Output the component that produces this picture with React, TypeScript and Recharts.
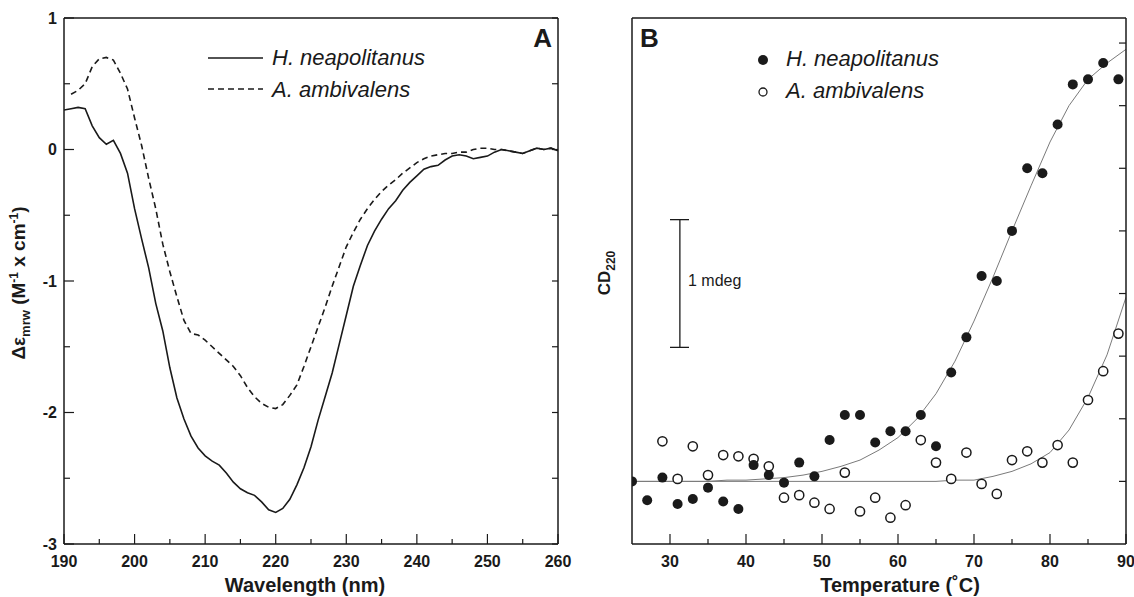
import { LineChart, Line, XAxis, YAxis, ComposedChart, Scatter, ReferenceLine, Customized } from "recharts";

const FONT = "'Liberation Sans', Arial, Helvetica, sans-serif";
const INK = "#1a1a1a";

// Panel A: far-UV CD spectra (mean residue ellipticity)
const wavelengths = [
  190, 191, 192, 193, 194, 195, 196, 197, 198, 199,
  200, 201, 202, 203, 204, 205, 206, 207, 208, 209,
  210, 211, 212, 213, 214, 215, 216, 217, 218, 219,
  220, 221, 222, 223, 224, 225, 226, 227, 228, 229,
  230, 231, 232, 233, 234, 235, 236, 237, 238, 239,
  240, 241, 242, 243, 244, 245, 246, 247, 248, 249,
  250, 251, 252, 253, 254, 255, 256, 257, 258, 259, 260,
];
const hNeapolitanusSpectrum = [
  0.30, 0.31, 0.32, 0.31, 0.18, 0.09, 0.04, 0.07, -0.03, -0.18,
  -0.45, -0.68, -0.90, -1.17, -1.38, -1.66, -1.89, -2.05, -2.18, -2.27,
  -2.33, -2.37, -2.40, -2.46, -2.53, -2.58, -2.61, -2.63, -2.68, -2.74,
  -2.76, -2.73, -2.66, -2.55, -2.42, -2.26, -2.06, -1.88, -1.70, -1.48,
  -1.26, -1.04, -0.88, -0.73, -0.62, -0.53, -0.45, -0.39, -0.31, -0.25,
  -0.20, -0.15, -0.13, -0.12, -0.08, -0.05, -0.04, -0.05, -0.07, -0.06,
  -0.05, -0.02, 0.00, -0.01, -0.02, -0.03, -0.01, 0.01, 0.00, 0.01, -0.01,
];
const aAmbivalensSpectrum = [
  null, 0.42, 0.45, 0.50, 0.63, 0.69, 0.70, 0.68, 0.58, 0.46,
  0.24, 0.03, -0.22, -0.45, -0.72, -0.93, -1.12, -1.30, -1.40, -1.41,
  -1.45, -1.50, -1.55, -1.60, -1.65, -1.72, -1.81, -1.88, -1.93, -1.96,
  -1.97, -1.94, -1.87, -1.79, -1.65, -1.50, -1.35, -1.20, -1.04, -0.89,
  -0.74, -0.63, -0.53, -0.45, -0.38, -0.32, -0.27, -0.23, -0.18, -0.14,
  -0.10, -0.07, -0.05, -0.04, -0.03, -0.03, -0.02, -0.02, 0.00, 0.01,
  0.01, 0.00, 0.00, -0.01, -0.02, -0.03, -0.01, 0.01, 0.00, 0.01, -0.01,
];
const wavelengthTicks = [190, 195, 200, 205, 210, 215, 220, 225, 230, 235, 240, 245, 250, 255, 260];
const epsilonTicks = [-3, -2.5, -2, -1.5, -1, -0.5, 0, 0.5, 1];

// Panel B: thermal unfolding followed at 220 nm (mdeg)
const meltTempsH = [25, 27, 29, 31, 33, 35, 37, 39, 41, 43, 45, 47, 49, 51, 53, 55, 57, 59, 61, 63, 65, 67, 69, 71, 73, 75, 77, 79, 81, 83, 85, 87, 89];
const meltCdH = [0.50, 0.35, 0.53, 0.32, 0.36, 0.45, 0.34, 0.28, 0.63, 0.55, 0.49, 0.65, 0.54, 0.83, 1.03, 1.03, 0.81, 0.90, 0.90, 1.03, 0.78, 1.37, 1.65, 2.14, 2.10, 2.50, 3.00, 2.96, 3.35, 3.67, 3.71, 3.84, 3.71];
const meltTempsA = [29, 31, 33, 35, 37, 39, 41, 43, 45, 47, 49, 51, 53, 55, 57, 59, 61, 63, 65, 67, 69, 71, 73, 75, 77, 79, 81, 83, 85, 87, 89];
const meltCdA = [0.82, 0.52, 0.78, 0.55, 0.71, 0.70, 0.68, 0.62, 0.37, 0.39, 0.33, 0.28, 0.57, 0.26, 0.37, 0.21, 0.31, 0.83, 0.65, 0.52, 0.73, 0.48, 0.40, 0.67, 0.74, 0.65, 0.79, 0.65, 1.15, 1.38, 1.68];
const fitTemps = [25, 27.5, 30, 32.5, 35, 37.5, 40, 42.5, 45, 47.5, 50, 52.5, 55, 57.5, 60, 62.5, 65, 67.5, 70, 72.5, 75, 77.5, 80, 82.5, 85, 87.5, 90];
const fitCdH = [0.50, 0.50, 0.50, 0.50, 0.50, 0.51, 0.51, 0.52, 0.53, 0.55, 0.58, 0.62, 0.67, 0.75, 0.85, 1.00, 1.20, 1.46, 1.78, 2.13, 2.50, 2.86, 3.21, 3.50, 3.71, 3.84, 3.95];
const fitCdA = [0.50, 0.50, 0.50, 0.50, 0.50, 0.50, 0.50, 0.50, 0.50, 0.50, 0.50, 0.50, 0.50, 0.50, 0.50, 0.50, 0.50, 0.51, 0.51, 0.54, 0.58, 0.64, 0.73, 0.91, 1.17, 1.51, 1.97];
const tempTicks = [30, 35, 40, 45, 50, 55, 60, 65, 70, 75, 80, 85, 90];
const cdTicks = [0.5, 1, 1.5, 2, 2.5, 3, 3.5, 4];

const spectrumData = wavelengths.map((wl, i) => ({ wl, h: hNeapolitanusSpectrum[i], a: aAmbivalensSpectrum[i] }));
const pointsH = meltTempsH.map((t, i) => ({ t, v: meltCdH[i] }));
const pointsA = meltTempsA.map((t, i) => ({ t, v: meltCdA[i] }));
const curveH = fitTemps.map((t, i) => ({ t, v: fitCdH[i] }));
const curveA = fitTemps.map((t, i) => ({ t, v: fitCdA[i] }));

const tickText = { fontFamily: FONT, fontSize: 16, fontWeight: 700, fill: INK };

type Side = "bottom" | "top" | "left" | "right";

// ticks point into the plot, like the original figure
function makeTick(side: Side, len: (v: number) => number, label?: (v: number) => string | null) {
  return (props: any) => {
    const { x, y, payload } = props;
    const v = Number(payload.value);
    const l = len(v);
    const c =
      side === "bottom" ? { x1: x, x2: x, y1: y, y2: y - l }
      : side === "top" ? { x1: x, x2: x, y1: y, y2: y + l }
      : side === "left" ? { x1: x, x2: x + l, y1: y, y2: y }
      : { x1: x, x2: x - l, y1: y, y2: y };
    const text = label ? label(v) : null;
    return (
      <g>
        <line {...c} stroke={INK} strokeWidth={1.2} />
        {text != null && side === "bottom" && (
          <text x={x} y={y + 23} textAnchor="middle" style={tickText}>{text}</text>
        )}
        {text != null && side === "left" && (
          <text x={x - 7} y={y + 5.5} textAnchor="end" style={tickText}>{text}</text>
        )}
      </g>
    );
  };
}

const axisLine = { stroke: INK, strokeWidth: 1.5 };

function SpectrumNotes() {
  const lbl = { fontFamily: FONT, fontWeight: 700, fill: INK };
  const leg = { fontFamily: FONT, fontStyle: "italic" as const, fontSize: 22, fill: INK };
  return (
    <g>
      <text transform="translate(25,283) rotate(-90)" textAnchor="middle" style={{ ...lbl, fontSize: 19 }}>
        Δε<tspan fontSize={13} dy={5}>mrw</tspan>
        <tspan dy={-5}> (M</tspan>
        <tspan fontSize={12} dy={-7}>-1</tspan>
        <tspan dy={7}> x cm</tspan>
        <tspan fontSize={12} dy={-7}>-1</tspan>
        <tspan dy={7}>)</tspan>
      </text>
      <text x={305} y={592} textAnchor="middle" style={{ ...lbl, fontSize: 20 }}>Wavelength (nm)</text>
      <text x={552} y={47} textAnchor="end" style={{ ...lbl, fontSize: 26 }}>A</text>
      <line x1={208} x2={263} y1={58} y2={58} stroke={INK} strokeWidth={1.6} />
      <text x={272} y={65} style={leg}>H. neapolitanus</text>
      <line x1={208} x2={263} y1={89} y2={89} stroke={INK} strokeWidth={1.6} strokeDasharray="6 4" />
      <text x={272} y={97} style={leg}>A. ambivalens</text>
    </g>
  );
}

// chart B starts at page x = 584, so page x − 584 below
function MeltNotes() {
  const lbl = { fontFamily: FONT, fontWeight: 700, fill: INK };
  const leg = { fontFamily: FONT, fontStyle: "italic" as const, fontSize: 22, fill: INK };
  return (
    <g>
      <text transform="translate(26,273) rotate(-90)" textAnchor="middle" style={{ ...lbl, fontSize: 17 }}>
        CD<tspan fontSize={12} dy={5}>220</tspan>
      </text>
      <text x={316} y={592} textAnchor="middle" style={{ ...lbl, fontSize: 20 }}>Temperature (˚C)</text>
      <text x={56} y={47} style={{ ...lbl, fontSize: 26 }}>B</text>
      <circle cx={179} cy={60} r={5} fill={INK} />
      <text x={202} y={66} style={leg}>H. neapolitanus</text>
      <circle cx={179} cy={92} r={4} fill="#fff" stroke={INK} strokeWidth={1.3} />
      <text x={202} y={98} style={leg}>A. ambivalens</text>
      <text x={104} y={286} style={{ fontFamily: FONT, fontSize: 16, fill: INK }}>1 mdeg</text>
    </g>
  );
}

const filledDot = (p: any) => <circle cx={p.cx} cy={p.cy} r={5} fill={INK} />;
const openDot = (p: any) => <circle cx={p.cx} cy={p.cy} r={4.6} fill="#fff" stroke={INK} strokeWidth={1.5} />;

function SpectraPanel() {
  // plot box: x 64–558, y 18–544
  return (
    <LineChart width={584} height={597} data={spectrumData} margin={{ top: 8, right: 17, bottom: 23, left: 34 }}>
      <XAxis
        dataKey="wl" type="number" domain={[190, 260]} allowDataOverflow ticks={wavelengthTicks} interval={0}
        height={30} tickSize={0} tickMargin={0} tickLine={false} axisLine={axisLine}
        tick={makeTick("bottom", (v) => (v % 10 === 0 ? 10 : 5), (v) => (v % 10 === 0 ? String(v) : null))}
      />
      <XAxis
        xAxisId="top" orientation="top" type="number" domain={[190, 260]} allowDataOverflow ticks={wavelengthTicks} interval={0}
        height={10} tickSize={0} tickMargin={0} tickLine={false} axisLine={axisLine}
        tick={makeTick("top", () => 7)}
      />
      <YAxis
        type="number" domain={[-3, 1]} allowDataOverflow ticks={epsilonTicks} interval={0}
        width={30} tickSize={0} tickMargin={0} tickLine={false} axisLine={axisLine}
        tick={makeTick("left", (v) => (Number.isInteger(v) ? 10 : 6), (v) => (Number.isInteger(v) ? String(v) : null))}
      />
      <YAxis
        yAxisId="right" orientation="right" type="number" domain={[-3, 1]} allowDataOverflow ticks={epsilonTicks} interval={0}
        width={9} tickSize={0} tickMargin={0} tickLine={false} axisLine={axisLine}
        tick={makeTick("right", () => 6)}
      />
      <Line dataKey="a" stroke={INK} strokeWidth={1.6} strokeDasharray="6 4" dot={false} activeDot={false} isAnimationActive={false} />
      <Line dataKey="h" stroke={INK} strokeWidth={1.6} dot={false} activeDot={false} isAnimationActive={false} />
      <Customized component={SpectrumNotes} />
    </LineChart>
  );
}

function MeltPanel() {
  // plot box (page coords): x 632–1126, y 18–544
  const barT = 31.3;
  return (
    <ComposedChart width={550} height={597} margin={{ top: 8, right: 0, bottom: 23, left: 18 }}>
      <XAxis
        dataKey="t" type="number" domain={[25, 90]} allowDataOverflow ticks={tempTicks} interval={0}
        height={30} tickSize={0} tickMargin={0} tickLine={false} axisLine={axisLine}
        tick={makeTick("bottom", (v) => (v % 10 === 0 ? 10 : 5), (v) => (v % 10 === 0 ? String(v) : null))}
      />
      <XAxis
        xAxisId="top" orientation="top" type="number" domain={[25, 90]} allowDataOverflow ticks={tempTicks} interval={0}
        height={10} tickSize={0} tickMargin={0} tickLine={false} axisLine={axisLine}
        tick={makeTick("top", () => 7)}
      />
      <YAxis
        dataKey="v" type="number" domain={[0, 4.2]} allowDataOverflow ticks={cdTicks}
        width={30} tick={false} tickLine={false} axisLine={axisLine}
      />
      <YAxis
        yAxisId="right" orientation="right" type="number" domain={[0, 4.2]} allowDataOverflow ticks={cdTicks} interval={0}
        width={8} tickSize={0} tickMargin={0} tickLine={false} axisLine={axisLine}
        tick={makeTick("right", () => 7)}
      />
      <Line data={curveH} dataKey="v" stroke="#7a7a7a" strokeWidth={1} dot={false} activeDot={false} isAnimationActive={false} />
      <Line data={curveA} dataKey="v" stroke="#7a7a7a" strokeWidth={1} dot={false} activeDot={false} isAnimationActive={false} />
      <Scatter data={pointsA} dataKey="v" shape={openDot} isAnimationActive={false} />
      <Scatter data={pointsH} dataKey="v" shape={filledDot} isAnimationActive={false} />
      <ReferenceLine segment={[{ x: barT, y: 1.57 }, { x: barT, y: 2.59 }]} stroke={INK} strokeWidth={1.3} />
      <ReferenceLine segment={[{ x: 30.0, y: 1.57 }, { x: 32.5, y: 1.57 }]} stroke={INK} strokeWidth={1.3} />
      <ReferenceLine segment={[{ x: 30.0, y: 2.59 }, { x: 32.5, y: 2.59 }]} stroke={INK} strokeWidth={1.3} />
      <Customized component={MeltNotes} />
    </ComposedChart>
  );
}

export default function App() {
  return (
    <div style={{ position: "absolute", left: 0, top: 0, width: 1134, height: 597, display: "flex", background: "#fff" }}>
      <SpectraPanel />
      <MeltPanel />
    </div>
  );
}
